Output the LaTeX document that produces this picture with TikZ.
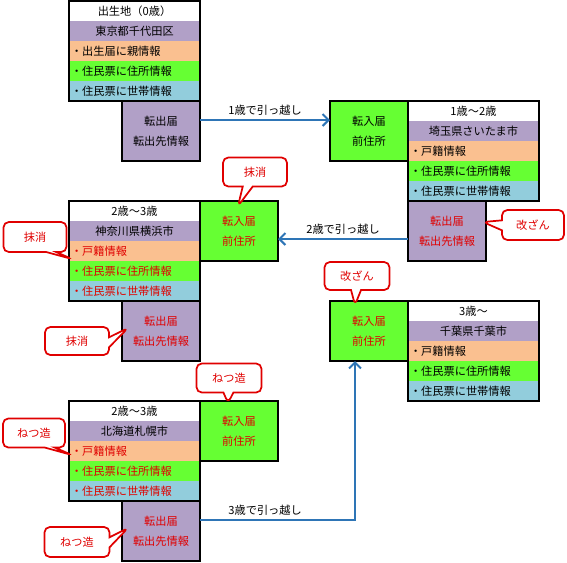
\documentclass[tikz,border=0pt]{standalone}
\usepackage{fontspec}
\setmainfont{Noto Sans CJK JP}
\usetikzlibrary{arrows.meta,shapes.callouts}

\definecolor{rowpurple}{HTML}{B1A0C7}
\definecolor{roworange}{HTML}{FAC090}
\definecolor{rowgreen}{HTML}{66FF33}
\definecolor{rowblue}{HTML}{92CDDC}
\definecolor{arrowblue}{HTML}{2E75B6}
\definecolor{notered}{HTML}{E00000}

\newdimen\pxu
\pxu=0.75pt

\tikzset{
  inforow/.style={anchor=north west, fill=#1, minimum height=20\pxu,
    text width=127\pxu, inner xsep=2\pxu, align=left},
  headrow/.style={inforow=#1, align=center},
  boxframe/.style={draw=black, line width=1.5pt},
  outbox/.style={boxframe, fill=rowpurple, minimum width=78\pxu,
    minimum height=60\pxu, align=center},
  inbox/.style={boxframe, fill=rowgreen, minimum width=78\pxu,
    minimum height=60\pxu, align=center},
  notebox/.style={rectangle callout, draw=notered, line width=1.3pt,
    fill=white, rounded corners=4pt, text=notered, align=center,
    callout pointer width=10\pxu},
  moveline/.style={draw=arrowblue, line width=1.5pt,
    -{Straight Barb[length=4.5pt,width=9pt]}},
}

\begin{document}
\begin{tikzpicture}[x=0.75pt, y=-0.75pt,
  every node/.style={font=\fontsize{8.4}{15}\selectfont, inner sep=0pt, outer sep=0pt}]
  \useasboundingbox (0,0) rectangle (567,562);

  % 0 sai: Tokyo
  \node[headrow=white] (b1-t) at (69,1) {出生地（0歳）};
  \node[headrow=rowpurple] (b1-c) at (b1-t.south west) {東京都千代田区};
  \node[inforow=roworange] (b1-r1) at (b1-c.south west) {・出生届に親情報};
  \node[inforow=rowgreen] (b1-r2) at (b1-r1.south west) {・住民票に住所情報};
  \node[inforow=rowblue] (b1-r3) at (b1-r2.south west) {・住民票に世帯情報};
  \draw[boxframe] (b1-t.north west) rectangle (b1-r3.south east);
  \node[outbox, anchor=north east] (b1-out) at (b1-r3.south east) {転出届\\転出先情報};

  % 1-2 sai: Saitama
  \node[inbox, anchor=north west] (b2-in) at (330,101) {転入届\\前住所};
  \node[headrow=white] (b2-t) at (b2-in.north east) {1歳～2歳};
  \node[headrow=rowpurple] (b2-c) at (b2-t.south west) {埼玉県さいたま市};
  \node[inforow=roworange] (b2-r1) at (b2-c.south west) {・戸籍情報};
  \node[inforow=rowgreen] (b2-r2) at (b2-r1.south west) {・住民票に住所情報};
  \node[inforow=rowblue] (b2-r3) at (b2-r2.south west) {・住民票に世帯情報};
  \draw[boxframe] (b2-t.north west) rectangle (b2-r3.south east);
  \node[outbox, anchor=north west, text=notered] (b2-out) at (b2-r3.south west) {転出届\\転出先情報};

  % 2-3 sai: Yokohama
  \node[headrow=white] (b3-t) at (69,201) {2歳～3歳};
  \node[headrow=rowpurple] (b3-c) at (b3-t.south west) {神奈川県横浜市};
  \node[inforow=roworange, text=notered] (b3-r1) at (b3-c.south west) {・戸籍情報};
  \node[inforow=rowgreen, text=notered] (b3-r2) at (b3-r1.south west) {・住民票に住所情報};
  \node[inforow=rowblue, text=notered] (b3-r3) at (b3-r2.south west) {・住民票に世帯情報};
  \draw[boxframe] (b3-t.north west) rectangle (b3-r3.south east);
  \node[inbox, anchor=north west, text=notered] (b3-in) at (b3-t.north east) {転入届\\前住所};
  \node[outbox, anchor=north east, text=notered] (b3-out) at (b3-r3.south east) {転出届\\転出先情報};

  % 3 sai-: Chiba
  \node[inbox, anchor=north west, text=notered] (b4-in) at (330,301) {転入届\\前住所};
  \node[headrow=white] (b4-t) at (b4-in.north east) {3歳～};
  \node[headrow=rowpurple] (b4-c) at (b4-t.south west) {千葉県千葉市};
  \node[inforow=roworange] (b4-r1) at (b4-c.south west) {・戸籍情報};
  \node[inforow=rowgreen] (b4-r2) at (b4-r1.south west) {・住民票に住所情報};
  \node[inforow=rowblue] (b4-r3) at (b4-r2.south west) {・住民票に世帯情報};
  \draw[boxframe] (b4-t.north west) rectangle (b4-r3.south east);

  % 2-3 sai: Sapporo
  \node[headrow=white] (b5-t) at (69,401) {2歳～3歳};
  \node[headrow=rowpurple] (b5-c) at (b5-t.south west) {北海道札幌市};
  \node[inforow=roworange, text=notered] (b5-r1) at (b5-c.south west) {・戸籍情報};
  \node[inforow=rowgreen, text=notered] (b5-r2) at (b5-r1.south west) {・住民票に住所情報};
  \node[inforow=rowblue, text=notered] (b5-r3) at (b5-r2.south west) {・住民票に世帯情報};
  \draw[boxframe] (b5-t.north west) rectangle (b5-r3.south east);
  \node[inbox, anchor=north west, text=notered] (b5-in) at (b5-t.north east) {転入届\\前住所};
  \node[outbox, anchor=north east, text=notered] (b5-out) at (b5-r3.south east) {転出届\\転出先情報};

  % moves
  \draw[moveline] ([yshift=11\pxu]b1-out.east) -- ([yshift=11\pxu]b2-in.west)
    node[midway, above=4.5\pxu, text=black] (m1) {1歳で引っ越し};
  \draw[moveline] ([yshift=-8\pxu]b2-out.west) -- ([yshift=-8\pxu]b3-in.east)
    node[midway, above=4.5\pxu, text=black] (m2) {2歳で引っ越し};
  \draw[moveline] ([yshift=11\pxu]b5-out.east) -| ([xshift=-14\pxu]b4-in.south)
    node[pos=0.21, above=4.5\pxu, text=black] (m3) {3歳で引っ越し};

  % notes
  \node[notebox, minimum width=62\pxu, minimum height=30\pxu,
    callout absolute pointer={(483,222)}] (n1) at (533,225) {改ざん};
  \node[notebox, minimum width=64\pxu, minimum height=29\pxu,
    callout absolute pointer={(238,206)}] (n2) at (255,172) {抹消};
  \node[notebox, minimum width=63\pxu, minimum height=30\pxu,
    callout absolute pointer={(72,259)}] (n3) at (35,237) {抹消};
  \node[notebox, minimum width=64\pxu, minimum height=28\pxu,
    callout absolute pointer={(128,328)}] (n4) at (77,341) {抹消};
  \node[notebox, minimum width=65\pxu, minimum height=28\pxu,
    callout absolute pointer={(355,305)}] (n5) at (357,276) {改ざん};
  \node[notebox, minimum width=65\pxu, minimum height=29\pxu,
    callout absolute pointer={(228,403)}] (n6) at (229,378) {ねつ造};
  \node[notebox, minimum width=62\pxu, minimum height=29\pxu,
    callout absolute pointer={(72,455)}] (n7) at (34,433) {ねつ造};
  \node[notebox, minimum width=65\pxu, minimum height=30\pxu,
    callout absolute pointer={(128,528)}] (n8) at (77,542) {ねつ造};
\end{tikzpicture}
\end{document}
